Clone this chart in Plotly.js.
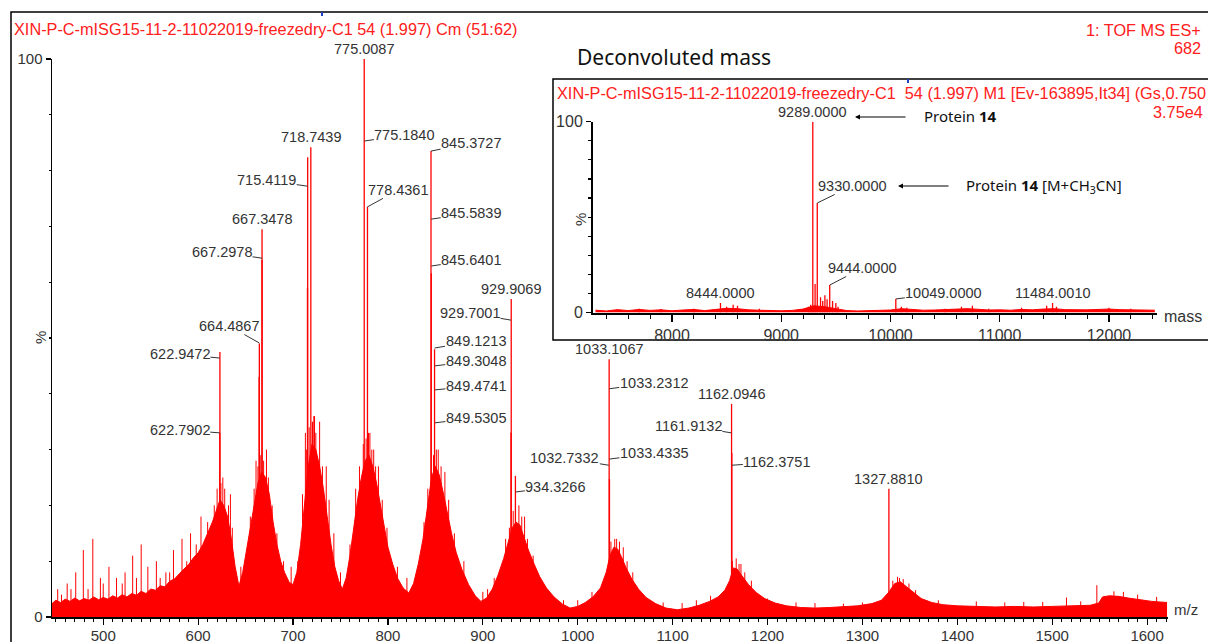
<!DOCTYPE html>
<html><head><meta charset="utf-8">
<script src="https://cdn.plot.ly/plotly-3.0.1.min.js"></script>
<style>html,body{margin:0;padding:0;background:#fff}#chart{width:1208px;height:642px}</style>
</head><body><div id="chart"></div>
<script>
// ---------- main spectrum data (m/z, % intensity) ----------
const envMz = [446,450,455,460,465,470,475,480,485,490,495,500,505,510,515,520,525,530,535,540,545,550,555,560,565,570,575,580,585,590,595,600,605,610,615,619,623,627,631,635,639,643,647,651,655,659,663,667,671,675,679,683,687,691,696,700,704,708,712,716,720,724,728,732,736,740,744,748,752,756,760,764,768,772,776,780,784,788,792,796,800,805,810,816,822,827,832,837,842,846,850,854,858,862,867,872,878,885,892,898,904,910,916,922,927,931,935,939,943,948,954,960,967,975,984,992,1000,1008,1016,1024,1030,1034,1038,1042,1046,1051,1057,1064,1072,1082,1093,1105,1117,1128,1139,1148,1155,1160,1164,1168,1173,1180,1188,1197,1208,1220,1235,1250,1265,1280,1295,1310,1320,1328,1334,1340,1346,1353,1362,1373,1385,1400,1420,1440,1460,1480,1500,1520,1540,1549,1553,1560,1570,1580,1592,1605,1621];
const envTop = [2.4,3.0,2.6,3.2,2.8,3.4,2.9,3.3,3.0,3.6,3.1,3.5,3.2,3.8,3.4,4.0,3.6,4.2,3.9,4.6,4.2,5.0,4.8,5.6,5.4,6.4,6.8,7.8,8.6,9.4,10.6,11.5,13,15,17,19,21,20,18,14,9,5.5,8,12,16,20,24,26,25,22,17,13,10,8,6.2,5.8,8,13,20,27,31,30,27,23,18,13,9,6.5,5,7,11,16,21,25,28,29,27,24,20,16,12.5,9.5,7,5.2,4.3,6,9.5,14,20,25,27,25.5,22.5,19,15,11.5,8.5,5.8,3.8,2.8,3.4,5,7.5,10.5,13.5,16,17,16.5,14.5,12,9.5,7.2,5.2,3.6,2.3,1.6,1.9,2.6,3.6,5.2,8,11,12.5,12.2,10.8,8.8,6.8,5,3.5,2.4,1.6,1.3,1.6,2.1,2.8,3.6,4.8,6.5,8.8,8.6,7.4,5.8,4.4,3.3,2.5,2.0,1.7,1.6,1.7,1.8,2.0,2.4,3.0,4.5,6.0,6.3,5.5,4.4,3.3,2.6,2.2,2.0,1.9,1.8,1.9,1.8,1.9,2.0,2.1,2.5,3.6,3.8,3.7,3.4,3.1,2.8,2.6];
// noise spikes rising above the continuum
const noiseMz = [452,456,462,466,471,479,484,489,497,500,506,514,520,523,531,535,540,547,556,560,566,570,574,583,588,592,598,603,610,617,620,624,626,628,632,634,636,645,648,655,659,661,663,666,669,672,674,678,683,690,698,705,710,713,714,717,722,724,728,731,735,738,743,750,760,766,770,774,777,781,783,785,787,790,794,799,810,820,838,842,848,851,853,856,860,864,870,880,900,905,912,924,928,932,938,941,944,947,953,985,1000,1015,1035,1039,1041,1044,1048,1052,1058,1090,1110,1125,1140,1163,1167,1170,1172,1176,1183,1200,1230,1250,1280,1300,1332,1337,1339,1343,1349,1356,1380,1420,1450,1470,1490,1515,1530,1547,1565,1575,1590,1610];
const noiseH  = [5,4,6,5,8,12,5,14,7,6,9,7,6,8,11,7,13,9,10,7,8,8,12,14,10,15,13,18,17,20,23,24,25,23,20,22,16,9,9,18,23,28,27,29,28,30,25,20,15,10,9,10,22,33,30,34,36,33,35,27,27,21,15,8,13,23,27,31,32,33,30,30,27,27,21,16,9,7,17,23,29,30,30,27,26,21,15,10,4.5,5,7,14,16,19,20,18,18,14,11,3,3,4.5,13.5,14,14,13.5,12.5,10,8,2.6,2.5,3,3.8,10,10.5,9.5,9.5,8,6.5,3.3,2.6,2.5,2.4,2.6,6.5,7.2,7,6.8,6,4.8,3,2.8,2.6,2.7,2.7,3.5,2.8,5.7,4.6,4.5,4,3.6];
// centroid peaks
const peakMz = [622.7902,622.9472,664.3,664.4867,667.2978,667.3478,715.2,715.4119,718.7439,720.5,722.5,775.0087,778.4361,779.5,845.3727,845.6401,849.1213,929.7,929.9069,934.3266,1033.1067,1033.4335,1162.0946,1162.3751,1327.881];
const peakH  = [33,47.5,43,49,64,69.5,59,82.4,84.2,35,36,100,73.5,33,83.5,61.6,48,33,57,25.3,46.2,24.7,38.2,29.4,23];
// labels drawn above their peak
const topLabelMz = [775.0087,718.7439,667.3478,929.9069,1033.1067,1162.0946,1327.881];
const topLabelH  = [100,84.2,69.5,57,46.2,38.2,23];
const topLabelText = ['775.0087','718.7439','667.3478','929.9069','1033.1067','1162.0946','1327.8810'];
// labels joined to the peak by a leader
const sideLabelMz = [775.184,715.4119,667.2978,664.4867,622.9472,622.7902,778.4361,845.3727,845.5839,845.6401,849.1213,849.3048,849.4741,849.5305,929.7001,934.3266,1033.2312,1032.7332,1033.4335,1161.9132,1162.3751];
const sideLabelH  = [85.3,77.2,64.3,49.1,46.4,33,73.5,83.5,71.3,62.9,48.2,45,40.7,34.8,53.2,22.4,40.9,27.2,28.3,33,27.2];
const sideLabelText = ['775.1840','715.4119','667.2978','664.4867','622.9472','622.7902','778.4361','845.3727','845.5839','845.6401','849.1213','849.3048','849.4741','849.5305','929.7001','934.3266','1033.2312','1032.7332','1033.4335','1161.9132','1162.3751'];
const mainTicks = [500,600,700,800,900,1000,1100,1200,1300,1400,1500,1600];

// ---------- inset (deconvoluted mass) ----------
const insetNoiseMass = [7300,7400,7500,7600,7700,7800,7900,8000,8100,8200,8300,8400,8500,8600,8700,8800,8900,9000,9100,9200,9300,9400,9500,9600,9700,9800,9900,10000,10100,10200,10300,10400,10500,10600,10700,10800,10900,11000,11100,11200,11300,11400,11500,11600,11700,11800,11900,12000,12100,12200,12300,12420];
const insetNoise = [1.2,0.8,1.5,1.0,1.6,1.1,1.4,0.9,1.3,1.6,1.0,1.8,2.2,2.0,1.4,1.2,1.0,0.9,1.1,1.8,3.5,3.0,2.0,1.0,0.8,0.9,1.0,1.3,2.0,1.6,1.2,1.3,1.5,1.6,2.0,1.7,1.3,1.4,1.2,1.6,1.4,1.8,2.0,1.5,1.3,1.4,1.6,1.8,1.5,1.4,1.3,1.2];
const insetPeakMass = [7700,7900,8200,8444,8500,8560,8600,8800,9250,9270,9289,9310,9330,9360,9380,9400,9420,9444,9470,9500,9520,10049,10100,10150,10500,10650,10750,10900,11200,11430,11484,11520,12000,12200];
const insetPeakH    = [2,1.8,2,5,3,4,3.5,2,3,4,100,15,57.4,8,6,9,7,14.4,6,5,3,7.1,3,2.5,2,3,3.5,2,2.5,3.5,5,3,2.5,2];
const insetTopMass = [9289,8444,11484];
const insetTopH = [100,5,5];
const insetTopText = ['9289.0000','8444.0000','11484.0010'];
const insetSideMass = [9330,9444,10049];
const insetSideH = [57.4,14.4,7.1];
const insetSideText = ['9330.0000','9444.0000','10049.0000'];
const insetTicks = [8000,9000,10000,11000,12000];

// ---------- layout helpers (positions only) ----------
const W = 1208, H = 642;
const px = x => x / W, py = y => 1 - y / H;
const sideOffsets = [[40,-6],[-41,-6],[-40,-6],[-30,-17],[-40,-4],[-40,-3],[31,-17],[40,-8],[40,-6],[40,-6],[41,-7],[41,-5],[41,-4],[41,-5],[-41,-7],[40,-5],[45,-6],[-44,-7],[45,-6],[-43,-7],[45,-3]];
const insetSideOffsets = [[35,-17],[33,-17],[48,-6]];

function sticks(xs, hs){
  const x=[], y=[];
  xs.forEach((m,i)=>{x.push(m,m,null); y.push(0,hs[i],null);});
  return {x,y};
}
const RED = '#ff0000';
const ARIAL = 'Liberation Sans, Arial, sans-serif';
const LBL = {family:ARIAL, size:14.5, color:'#333'};
const TICKF = {family:ARIAL, size:15, color:'#333'};
const TICKF2 = {family:ARIAL, size:16, color:'#333'};

const pk = sticks(peakMz, peakH), nz = sticks(noiseMz, noiseH), ipk = sticks(insetPeakMass, insetPeakH);
const traces = [
  {x:envMz, y:envTop, type:'scatter', mode:'lines', fill:'tozeroy', fillcolor:RED, line:{color:RED,width:1}, xaxis:'x', yaxis:'y', hoverinfo:'skip'},
  {x:nz.x, y:nz.y, type:'scatter', mode:'lines', line:{color:RED,width:1}, xaxis:'x', yaxis:'y', hoverinfo:'skip'},
  {x:pk.x, y:pk.y, type:'scatter', mode:'lines', line:{color:RED,width:1.3}, xaxis:'x', yaxis:'y', hoverinfo:'skip'},
  {x:insetNoiseMass, y:insetNoise, type:'scatter', mode:'lines', fill:'tozeroy', fillcolor:RED, line:{color:RED,width:1}, xaxis:'x2', yaxis:'y2', hoverinfo:'skip'},
  {x:ipk.x, y:ipk.y, type:'scatter', mode:'lines', line:{color:RED,width:1.3}, xaxis:'x2', yaxis:'y2', hoverinfo:'skip'}
];

const ann = [];
topLabelMz.forEach((m,i)=>ann.push({x:m, y:topLabelH[i], xref:'x', yref:'y', text:topLabelText[i], showarrow:false, yanchor:'bottom', yshift:0, font:LBL}));
sideLabelMz.forEach((m,i)=>ann.push({x:m, y:sideLabelH[i], xref:'x', yref:'y', text:sideLabelText[i], showarrow:true, arrowhead:0, arrowwidth:1, arrowcolor:'#333', ax:sideOffsets[i][0], ay:sideOffsets[i][1], standoff:0, borderpad:0, font:LBL}));
insetTopMass.forEach((m,i)=>ann.push({x:m, y:insetTopH[i], xref:'x2', yref:'y2', text:insetTopText[i], showarrow:false, yanchor:'bottom', font:LBL}));
insetSideMass.forEach((m,i)=>ann.push({x:m, y:insetSideH[i], xref:'x2', yref:'y2', text:insetSideText[i], showarrow:true, arrowhead:0, arrowwidth:1, arrowcolor:'#333', ax:insetSideOffsets[i][0], ay:insetSideOffsets[i][1], standoff:0, borderpad:0, font:LBL}));

const redF = {family:ARIAL, size:16.3, color:'#ff2020'};
ann.push(
  {xref:'paper', yref:'paper', x:px(12), y:py(29), xanchor:'left', yanchor:'middle', showarrow:false, text:'XIN-P-C-mISG15-11-2-11022019-freezedry-C1 54 (1.997) Cm (51:62)', font:redF},
  {xref:'paper', yref:'paper', x:px(1203), y:py(30), xanchor:'right', yanchor:'middle', showarrow:false, text:'1: TOF MS ES+', font:redF},
  {xref:'paper', yref:'paper', x:px(1203), y:py(48), xanchor:'right', yanchor:'middle', showarrow:false, text:'682', font:redF},
  {xref:'paper', yref:'paper', x:px(555), y:py(93), xanchor:'left', yanchor:'middle', showarrow:false, text:'XIN-P-C-mISG15-11-2-11022019-freezedry-C1&nbsp;&nbsp;54 (1.997) M1 [Ev-163895,It34] (Gs,0.750', font:redF},
  {xref:'paper', yref:'paper', x:px(1205), y:py(112), xanchor:'right', yanchor:'middle', showarrow:false, text:'3.75e4', font:redF},
  {xref:'paper', yref:'paper', x:px(575), y:py(57), xanchor:'left', yanchor:'middle', showarrow:false, text:'Deconvoluted mass', font:{family:'Noto Sans, Open Sans, sans-serif', size:21, color:'#111'}},
  {xref:'paper', yref:'paper', x:px(922), y:py(116), xanchor:'left', yanchor:'middle', showarrow:false, text:'Protein <b>14</b>', font:{family:'Noto Sans, Open Sans, sans-serif', size:15, color:'#111'}},
  {xref:'paper', yref:'paper', x:px(964), y:py(186), xanchor:'left', yanchor:'middle', showarrow:false, text:'Protein <b>14</b> [M+CH<sub>3</sub>CN]', font:{family:'Noto Sans, Open Sans, sans-serif', size:15, color:'#111'}},
  {xref:'paper', yref:'paper', x:px(855), y:py(117), ax:52, ay:0, text:'', showarrow:true, arrowhead:2, arrowsize:1, arrowwidth:1, arrowcolor:'#000'},
  {xref:'paper', yref:'paper', x:px(898), y:py(186), ax:52, ay:0, text:'', showarrow:true, arrowhead:2, arrowsize:1, arrowwidth:1, arrowcolor:'#000'},
  {xref:'paper', yref:'paper', x:px(41), y:py(338), xanchor:'center', showarrow:false, text:'%', textangle:-90, font:TICKF},
  {xref:'paper', yref:'paper', x:px(580), y:py(220), xanchor:'center', showarrow:false, text:'%', textangle:-90, font:TICKF},
  {xref:'paper', yref:'paper', x:px(1172), y:py(620), xanchor:'left', showarrow:false, text:'m/z', font:TICKF},
  {xref:'paper', yref:'paper', x:px(1162), y:py(316), xanchor:'left', showarrow:false, text:'mass', font:TICKF2}
);

const axBase = {showgrid:false, zeroline:false, showline:true, linecolor:'#000', ticks:'outside', tickcolor:'#000', tickfont:TICKF, fixedrange:true};
const layout = {
  width:W, height:H, margin:{l:0,r:0,t:0,b:0}, paper_bgcolor:'#fff', plot_bgcolor:'rgba(0,0,0,0)', showlegend:false,
  xaxis:{...axBase, domain:[px(52), px(1168)], range:[446,1622], anchor:'y', linewidth:1.5, tickvals:mainTicks, ticktext:mainTicks.map(String), ticklen:6, tickwidth:1.2, ticklabelstandoff:-2,
         minor:{dtick:10, tick0:0, ticklen:3, tickwidth:1, tickcolor:'#000', ticks:'outside'}},
  yaxis:{...axBase, domain:[py(617), py(59)], range:[0,100], anchor:'x', linewidth:1.5, tickvals:[0,100], ticktext:['0','100'], ticklen:5, tickwidth:1.2,
         minor:{dtick:10, ticklen:2, tickcolor:'#000', ticks:'outside'}},
  xaxis2:{...axBase, domain:[px(593), px(1157)], range:[7277,12440], anchor:'y2', linewidth:2, tickvals:insetTicks, ticktext:insetTicks.map(String), tickfont:TICKF2, ticklen:7, tickwidth:1.2,
          minor:{dtick:200, tick0:0, ticklen:4, tickwidth:1, tickcolor:'#000', ticks:'outside'}},
  yaxis2:{...axBase, domain:[py(312.5), py(121.7)], range:[0,100], anchor:'x2', linewidth:2, tickvals:[0,100], ticktext:['0','100'], tickfont:TICKF2, ticklen:5, tickwidth:1.2,
          minor:{dtick:10, ticklen:3, tickcolor:'#000', ticks:'outside'}},
  shapes:[
    {type:'rect', xref:'paper', yref:'paper', x0:px(11), x1:px(1214), y0:py(660), y1:py(12), line:{color:'#000', width:1.5}, layer:'below'},
    {type:'rect', xref:'paper', yref:'paper', x0:px(553), x1:px(1214), y0:py(340), y1:py(79), line:{color:'#000', width:1.5}, fillcolor:'#fff', layer:'below'},
    {type:'line', xref:'paper', yref:'paper', x0:px(322), x1:px(322), y0:py(12), y1:py(16), line:{color:'#2040c0', width:2}},
    {type:'line', xref:'paper', yref:'paper', x0:px(908), x1:px(908), y0:py(79), y1:py(83), line:{color:'#2040c0', width:2}}
  ],
  annotations:ann
};
Plotly.newPlot('chart', traces, layout, {displayModeBar:false, staticPlot:true});
</script></body></html>
